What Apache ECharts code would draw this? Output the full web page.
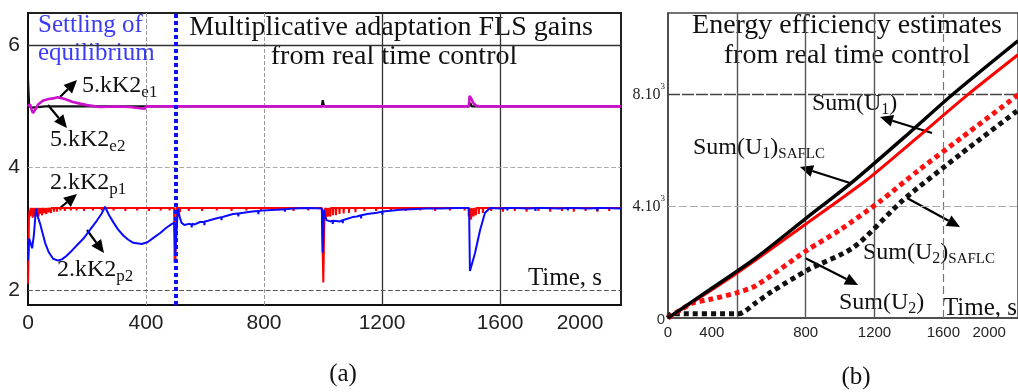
<!DOCTYPE html>
<html>
<head>
<meta charset="utf-8">
<script src="https://cdn.jsdelivr.net/npm/echarts@6/dist/echarts.min.js"></script>
<style>
html,body{margin:0;padding:0;background:#fff;}
#chart{width:1018px;height:392px;}
</style>
</head>
<body>
<div id="chart"></div>
<script>
// ---------- (a) multiplicative adaptation gains, [time s, gain] ----------
const gainTickLabelsY = [2, 4, 6];
const gainE2 = [[0,5.42],[4,5.0],[12,4.98],[60,5.0],[400,5.0],[996,5.0],[999,5.1],[1003,5.01],[1010,5.0],[1496,5.0],[1499,5.06],[1504,5.0],[2010,5.0]];
const gainE1 = [[0,5.0],[7,5.03],[12,4.95],[17,4.89],[25,4.95],[34,5.03],[50,5.09],[70,5.12],[85,5.13],[100,5.15],[125,5.12],[152,5.07],[180,5.04],[200,5.02],[244,4.99],[300,5.0],[345,4.99],[350,4.96],[395,4.96],[400,5.0],[1494,5.0],[1497,5.17],[1503,5.12],[1510,5.05],[1520,5.01],[1530,5.0],[2010,5.0]];
const gainP1 = [[0,2.1],[2,2.6],[3,3.15],[5,3.3],[7,3.2],[9,3.34],
  [11,3.34],[12,3.22],[13,3.34],[15,3.34],[16,3.18],[17,3.34],[20,3.34],[21,3.2],[22,3.34],
  [25,3.34],[26,3.22],[27,3.34],[30,3.34],[31,3.24],[32,3.34],[35,3.34],[36,3.2],[37,3.34],
  [41,3.34],[42,3.25],[43,3.34],[47,3.34],[48,3.22],[49,3.34],[54,3.34],[55,3.26],[56,3.34],
  [61,3.34],[62,3.24],[63,3.34],[69,3.34],[70,3.27],[71,3.34],[77,3.34],[78,3.26],[79,3.34],
  [87,3.34],[88,3.28],[89,3.34],[97,3.34],[98,3.28],[99,3.34],[109,3.34],[110,3.3],[111,3.34],
  [124,3.34],[125,3.29],[126,3.34],[144,3.34],[145,3.3],[146,3.34],[164,3.34],[165,3.3],[166,3.34],
  [189,3.34],[190,3.29],[191,3.34],[219,3.34],[220,3.3],[221,3.34],[249,3.34],[250,3.3],[251,3.34],
  [289,3.34],[290,3.3],[291,3.34],[329,3.34],[330,3.29],[331,3.34],[369,3.34],[370,3.3],[371,3.34],
  [409,3.34],[410,3.29],[411,3.34],[449,3.34],[450,3.3],[451,3.34],[479,3.34],[480,3.3],[481,3.34],
  [495,3.34],[497,2.45],[500,2.5],[503,3.34],
  [514,3.34],[515,3.27],[516,3.34],[544,3.34],[545,3.29],[546,3.34],[589,3.34],[590,3.29],[591,3.34],
  [639,3.34],[640,3.3],[641,3.34],[689,3.34],[690,3.29],[691,3.34],[739,3.34],[740,3.3],[741,3.34],
  [789,3.34],[790,3.29],[791,3.34],[849,3.34],[850,3.3],[851,3.34],[899,3.34],[900,3.29],[901,3.34],
  [949,3.34],[950,3.3],[951,3.34],
  [996,3.34],[998,2.8],[1001,2.12],[1004,3.0],[1006,3.3],[1008,3.34],
  [1009,3.34],[1010,3.18],[1011,3.34],[1016,3.34],[1017,3.2],[1018,3.34],[1024,3.34],[1025,3.2],[1026,3.34],
  [1033,3.34],[1034,3.22],[1035,3.34],[1043,3.34],[1044,3.22],[1045,3.34],[1055,3.34],[1056,3.24],[1057,3.34],
  [1069,3.34],[1070,3.25],[1071,3.34],[1087,3.34],[1088,3.26],[1089,3.34],[1109,3.34],[1110,3.27],[1111,3.34],
  [1139,3.34],[1140,3.29],[1141,3.34],[1179,3.34],[1180,3.29],[1181,3.34],[1229,3.34],[1230,3.3],[1231,3.34],
  [1279,3.34],[1280,3.29],[1281,3.34],[1329,3.34],[1330,3.3],[1331,3.34],[1379,3.34],[1380,3.29],[1381,3.34],
  [1429,3.34],[1430,3.3],[1431,3.34],[1479,3.34],[1480,3.3],[1481,3.34],
  [1493,3.34],[1494,3.2],[1495,3.34],[1501,3.34],[1502,3.15],[1503,3.34],[1509,3.34],[1510,3.2],[1511,3.34],
  [1517,3.34],[1518,3.22],[1519,3.34],[1527,3.34],[1528,3.24],[1529,3.34],[1541,3.34],[1542,3.26],[1543,3.34],
  [1569,3.34],[1570,3.29],[1571,3.34],[1609,3.34],[1610,3.28],[1611,3.34],[1649,3.34],[1650,3.29],[1651,3.34],
  [1689,3.34],[1690,3.28],[1691,3.34],[1729,3.34],[1730,3.29],[1731,3.34],[1769,3.34],[1770,3.28],[1771,3.34],
  [1809,3.34],[1810,3.29],[1811,3.34],[1849,3.34],[1850,3.28],[1851,3.34],[1889,3.34],[1890,3.29],[1891,3.34],
  [1929,3.34],[1930,3.28],[1931,3.34],[1969,3.34],[1970,3.29],[1971,3.34],[2010,3.34]];
const gainP2 = [[0,2.48],[4,2.84],[9,2.86],[14,2.68],[20,2.9],[27,3.33],[33,3.2],[41,3.08],[50,2.92],[58,2.77],[70,2.62],[85,2.51],[102,2.48],[115,2.5],[131,2.56],[150,2.65],[170,2.75],[188,2.84],[210,2.98],[233,3.13],[250,3.25],[261,3.36],[275,3.22],[290,3.1],[305,2.99],[323,2.89],[340,2.82],[357,2.77],[385,2.75],[405,2.78],[425,2.85],[448,2.93],[470,3.02],[488,3.08],[496,3.1],[499,2.62],[503,2.9],[508,3.33],[514,3.2],[520,3.1],[530,3.06],[545,3.08],
  [554,3.07],[555,3.02],[556,3.08],[565,3.07],[583,3.11],[597,3.11],[598,3.06],[599,3.12],[610,3.13],[640,3.17],
  [655,3.19],[656,3.14],[657,3.19],[665,3.2],[695,3.24],[712,3.25],[713,3.2],[714,3.25],[730,3.26],[760,3.28],
  [780,3.29],[781,3.24],[782,3.29],[797,3.3],[840,3.31],[870,3.32],[871,3.28],[872,3.32],[898,3.33],[950,3.34],
  [996,3.33],[999,2.61],[1003,3.31],[1007,3.2],[1012,3.14],[1024,3.12],[1032,3.13],[1033,3.08],[1034,3.13],[1040,3.13],
  [1058,3.12],[1066,3.14],[1067,3.09],[1068,3.14],[1080,3.16],[1100,3.19],[1115,3.2],[1128,3.22],[1129,3.17],[1130,3.22],
  [1150,3.24],[1183,3.26],[1200,3.28],[1201,3.23],[1202,3.28],[1220,3.29],[1261,3.31],[1300,3.32],[1350,3.33],[1400,3.33],
  [1450,3.34],[1495,3.34],[1498,2.31],[1515,2.6],[1532,2.97],[1549,3.26],[1566,3.34],[1600,3.33],
  [1624,3.34],[1625,3.3],[1626,3.34],[1650,3.34],[1700,3.33],[1719,3.34],[1720,3.29],[1721,3.34],[1750,3.34],
  [1800,3.33],[1829,3.34],[1830,3.3],[1831,3.34],[1850,3.34],[1900,3.33],[1929,3.34],[1930,3.29],[1931,3.34],
  [1950,3.34],[2010,3.33]];
const settlingEnd = 500;

// ---------- (b) cumulative control energy, [time s, sum] ----------
const energyTickLabelsY = [0, 4000, 8000];
const sumU1 = [[0,0],[240,1000],[509,2140],[800,3550],[1080,4900],[1400,6600],[1657,8000],[2034,9900]];
const sumU1Saflc = [[0,0],[400,1600],[800,3350],[1154,4927],[1440,6400],[1737,7950],[2034,9400]];
const sumU2Saflc = [[0,0],[143,535],[240,660],[394,890],[509,1150],[811,2430],[1000,3150],[1229,4150],[1457,5280],[1708,6450],[2034,7970]];
const sumU2 = [[0,0],[20,150],[411,150],[509,535],[600,930],[811,1710],[1080,2530],[1366,4210],[1700,5850],[2034,7420]];

const serif = '"Liberation Serif","Times New Roman",serif';
const sans = '"Liberation Sans",Arial,sans-serif';

function arrow(x1, y1, x2, y2) {
  const dx = x2 - x1, dy = y2 - y1, L = Math.hypot(dx, dy);
  const ux = dx / L, uy = dy / L, hl = 13, hw = 6;
  const bx = x2 - ux * hl, by = y2 - uy * hl;
  return [
    {type: 'line', silent: true, shape: {x1: x1, y1: y1, x2: bx, y2: by}, style: {stroke: '#000', lineWidth: 2.2}},
    {type: 'polygon', silent: true, shape: {points: [[x2, y2], [bx - uy * hw, by + ux * hw], [bx + uy * hw, by - ux * hw]]}, style: {fill: '#000'}}
  ];
}

// main text + lowered subscript, block anchored at its top-left corner
const subRich = {
  m: {fontFamily: serif, fontSize: 24, lineHeight: 24, verticalAlign: 'top', fill: '#111'},
  s: {fontFamily: serif, fontSize: 17, lineHeight: 17, padding: [10, 0, 0, 0], verticalAlign: 'top', fill: '#111'},
  bm: {fontFamily: serif, fontSize: 24, lineHeight: 24, verticalAlign: 'top', fill: '#111'},
  bs: {fontFamily: serif, fontSize: 16, lineHeight: 16, padding: [10, 0, 0, 0], verticalAlign: 'top', fill: '#111'},
  bc: {fontFamily: serif, fontSize: 15, lineHeight: 15, padding: [11, 0, 0, 0], verticalAlign: 'top', fill: '#111'}
};
function richText(x, y, text) {
  return {type: 'text', silent: true, x: x, y: y, style: {text: text, rich: subRich, fontFamily: serif, fontSize: 24, fill: '#111', align: 'left', verticalAlign: 'top'}};
}
function plainText(x, y, text, size, color, align) {
  return {type: 'text', silent: true, x: x, y: y, style: {text: text, fontFamily: serif, fontSize: size, fill: color || '#111', align: align || 'center', verticalAlign: 'middle'}};
}

const gridLine = (axis, v, color, type, width) => ({[axis]: v, lineStyle: {color: color, type: type, width: width}});

const chart = echarts.init(document.getElementById('chart'), null, {renderer: 'canvas'});
chart.setOption({
  animation: false,
  backgroundColor: '#fff',
  grid: [
    {left: 28, top: 13, width: 593, height: 292, show: true, borderColor: '#222', borderWidth: 2, containLabel: false},
    {left: 668, top: 13, width: 356, height: 305, show: true, borderColor: '#444', borderWidth: 1.5, containLabel: false}
  ],
  xAxis: [
    {type: 'value', gridIndex: 0, min: 0, max: 2010, interval: 400,
     axisLine: {show: true, lineStyle: {color: '#111', width: 2}}, axisTick: {show: false}, splitLine: {show: false},
     axisLabel: {margin: 8, color: '#222', fontFamily: sans, fontSize: 21,
       formatter: v => v === 2000 ? '{shift|2000}' : '{n|' + v + '}',
       rich: {n: {fontFamily: sans, fontSize: 21, color: '#222'}, shift: {fontFamily: sans, fontSize: 21, color: '#222', padding: [0, 76, 0, 0]}}}},
    {type: 'value', gridIndex: 1, min: 0, max: 2034, interval: 400,
     axisLine: {show: true, lineStyle: {color: '#444', width: 1.5}}, axisTick: {show: false}, splitLine: {show: false},
     axisLabel: {margin: 7, color: '#222', fontFamily: sans, fontSize: 15,
       formatter: v => v === 400 ? '{s4|400}' : v === 2000 ? '{s20|2000}' : '{n|' + v + '}',
       rich: {n: {fontFamily: sans, fontSize: 15, color: '#222'},
              s4: {fontFamily: sans, fontSize: 15, color: '#222', padding: [0, 50, 0, 0]},
              s20: {fontFamily: sans, fontSize: 15, color: '#222', padding: [0, 46, 0, 0]}}}}
  ],
  yAxis: [
    {type: 'value', gridIndex: 0, min: 1.754, max: 6.525,
     axisLine: {show: true, lineStyle: {color: '#111', width: 2}}, axisTick: {show: false}, splitLine: {show: false},
     axisLabel: {customValues: gainTickLabelsY, margin: 8, color: '#222', fontFamily: sans, fontSize: 21}},
    {type: 'value', gridIndex: 1, min: 0, max: 10893,
     axisLine: {show: true, lineStyle: {color: '#444', width: 1.5}}, axisTick: {show: false}, splitLine: {show: false},
     axisLabel: {customValues: energyTickLabelsY, margin: 3, formatter: v => v === 0 ? '{z|0}' : '{n|' + (v / 1000) + '.10}{p|3}',
       rich: {z: {fontFamily: sans, fontSize: 15, color: '#333', verticalAlign: 'bottom', lineHeight: 18},
              n: {fontFamily: serif, fontSize: 16, color: '#222', verticalAlign: 'bottom', lineHeight: 18},
              p: {fontFamily: serif, fontSize: 9, color: '#222', verticalAlign: 'bottom', lineHeight: 9, padding: [0, 0, 12, 0]}}}}
  ],
  series: [
    {name: '2.kK2p1', type: 'line', xAxisIndex: 0, yAxisIndex: 0, data: gainP1, showSymbol: false, symbol: 'none',
     lineStyle: {color: '#ff0000', width: 2}, z: 2,
     markLine: {silent: true, symbol: ['none', 'none'], label: {show: false}, z: 1, animation: false,
       data: [gridLine('xAxis', 400, '#9a9a9a', 'dashed', 1), gridLine('xAxis', 800, '#9a9a9a', 'dashed', 1),
              gridLine('xAxis', 1200, '#333', 'solid', 1.3), gridLine('xAxis', 1600, '#333', 'solid', 1.3),
              gridLine('yAxis', 2, '#555', 'dashed', 1.2), gridLine('yAxis', 4, '#aaa', 'dashed', 1.2),
              gridLine('yAxis', 6, '#333', 'solid', 1.3)]}},
    {name: '2.kK2p2', type: 'line', xAxisIndex: 0, yAxisIndex: 0, data: gainP2, showSymbol: false, symbol: 'none',
     lineStyle: {color: '#0a0aff', width: 2}, z: 3},
    {name: '5.kK2e2', type: 'line', xAxisIndex: 0, yAxisIndex: 0, data: gainE2, showSymbol: false, symbol: 'none',
     lineStyle: {color: '#111', width: 2.2}, z: 3},
    {name: '5.kK2e1', type: 'line', xAxisIndex: 0, yAxisIndex: 0, data: gainE1, showSymbol: false, symbol: 'none',
     lineStyle: {color: '#cc10cc', width: 2.6}, z: 4,
     markLine: {silent: true, symbol: ['none', 'none'], label: {show: false}, z: 6, animation: false,
       data: [gridLine('xAxis', settlingEnd, '#1010ff', [4, 3], 4)]}},

    {name: 'Sum(U2)', type: 'line', xAxisIndex: 1, yAxisIndex: 1, data: sumU2, showSymbol: false, symbol: 'none',
     smooth: 0.25,
     lineStyle: {color: '#111', width: 5, type: [5, 4]}, z: 2,
     markLine: {silent: true, symbol: ['none', 'none'], label: {show: false}, z: 1, animation: false,
       data: [gridLine('xAxis', 400, '#555', 'solid', 1.4), gridLine('xAxis', 800, '#555', 'solid', 1.4),
              gridLine('xAxis', 1200, '#555', 'solid', 1.4), gridLine('xAxis', 1600, '#777', [8, 4], 1.2),
              gridLine('yAxis', 4000, '#aaa', [8, 3], 1.2), gridLine('yAxis', 8000, '#444', [12, 2], 1.3)]}},
    {name: 'Sum(U2)SAFLC', type: 'line', xAxisIndex: 1, yAxisIndex: 1, data: sumU2Saflc, showSymbol: false, symbol: 'none',
     smooth: 0.25,
     lineStyle: {color: '#ff1010', width: 5, type: [5, 4]}, z: 3},
    {name: 'Sum(U1)SAFLC', type: 'line', xAxisIndex: 1, yAxisIndex: 1, data: sumU1Saflc, showSymbol: false, symbol: 'none',
     smooth: 0.25,
     lineStyle: {color: '#ff0000', width: 3}, z: 4},
    {name: 'Sum(U1)', type: 'line', xAxisIndex: 1, yAxisIndex: 1, data: sumU1, showSymbol: false, symbol: 'none',
     smooth: 0.25,
     lineStyle: {color: '#000', width: 3.5}, z: 5}
  ],
  graphic: {elements: [].concat(
    // panel (a) annotations
    [plainText(38, 25, 'Settling of', 25, '#3b3bf5', 'left'),
     plainText(38, 53, 'equilibrium', 25, '#3b3bf5', 'left'),
     plainText(391, 28, 'Multiplicative adaptation FLS gains', 28),
     plainText(394, 57, 'from real time control', 28),
     plainText(565, 278, 'Time, s', 25),
     richText(82, 74, '{m|5.kK2}{s|e1}'),
     richText(50, 128, '{m|5.kK2}{s|e2}'),
     richText(50, 171, '{m|2.kK2}{s|p1}'),
     richText(57, 258, '{m|2.kK2}{s|p2}'),
     plainText(343, 374, '(a)', 25)],
    arrow(60, 97, 77, 80), arrow(48, 105, 67, 128), arrow(60, 208, 77, 194), arrow(87, 230, 104, 253),
    // panel (b) annotations
    [plainText(847, 26, 'Energy efficiency estimates', 28),
     plainText(847, 56, 'from real time control', 28),
     plainText(980, 308, 'Time, s', 25),
     richText(812, 92, '{bm|Sum(U}{bs|1}{bm|)}'),
     richText(693, 136, '{bm|Sum(U}{bs|1}{bm|)}{bc|SAFLC}'),
     richText(863, 241, '{bm|Sum(U}{bs|2}{bm|)}{bc|SAFLC}'),
     richText(839, 291, '{bm|Sum(U}{bs|2}{bm|)}'),
     plainText(856, 377, '(b)', 25)],
    arrow(932, 133, 880, 117), arrow(850, 183, 800, 167), arrow(907, 198, 960, 227), arrow(805, 258, 858, 285)
  )}
});
</script>
</body>
</html>
